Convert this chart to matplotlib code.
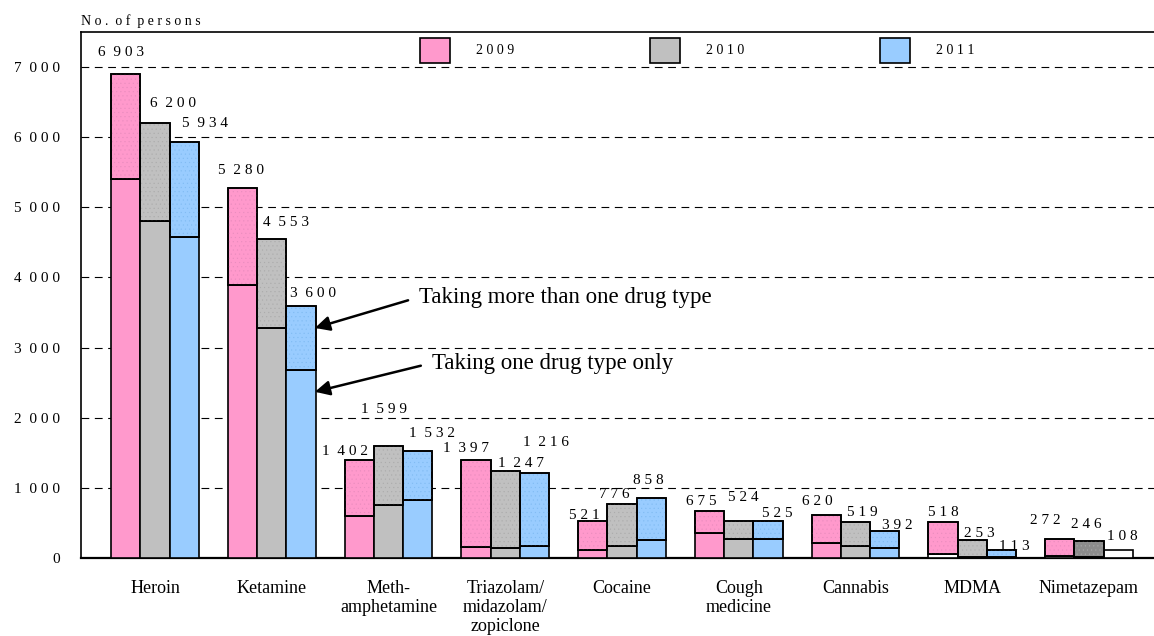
import numpy as np
import matplotlib
matplotlib.use("Agg")
from matplotlib import pyplot as plt
from matplotlib.patches import Rectangle

plt.rcParams['font.family'] = ['Liberation Serif', 'DejaVu Serif']
plt.rcParams['hatch.linewidth'] = 0.3

drugs = ['Heroin', 'Ketamine', 'Meth-\namphetamine', 'Triazolam/\nmidazolam/\nzopiclone',
         'Cocaine', 'Cough\nmedicine', 'Cannabis', 'MDMA', 'Nimetazepam']
years = ['2009', '2010', '2011']

total_2009 = [6903, 5280, 1402, 1397, 521, 675, 620, 518, 272]
total_2010 = [6200, 4553, 1599, 1247, 776, 524, 519, 253, 246]
total_2011 = [5934, 3600, 1532, 1216, 858, 525, 392, 113, 108]

single_2009 = [5400, 3890, 595, 160, 120, 360, 215, 55, 30]
single_2010 = [4810, 3280, 755, 145, 165, 275, 175, 10, 10]
single_2011 = [4580, 2680, 820, 165, 255, 275, 145, 15, 108]

yticks = [0, 1000, 2000, 3000, 4000, 5000, 6000, 7000]

totals = [total_2009, total_2010, total_2011]
singles = [single_2009, single_2010, single_2011]

colors = ['#FF99CC', '#C0C0C0', '#99CCFF']
dots = ['#E98CBE', '#ABABAB', '#80BBF2']

# a few bars drawn differently in the source
low_override = {(0, 7): 'white', (0, 8): 'white', (2, 8): 'white'}
up_override = {(1, 8): '#8C8C8C'}

# label offsets in pixels from bar top centre
offs = [
    [(-5, 21), (-2, 17), (-14, 8), (-10, 12), (-8, 6), (-8, 9), (-9, 13), (0, 9), (-14, 18)],
    [(18, 20), (14, 16), (-5, 36), (16, 7), (-8, 9), (5, 24), (7, 9), (7, 7), (-3, 16)],
    [(21, 18), (12, 12), (14, 17), (12, 30), (-3, 17), (9, 8), (13, 5), (13, 4), (4, 14)],
]


def spaced(v):
    s = f"{v:,}".replace(',', ' ')
    return '  '.join(' '.join(p) for p in s.split(' '))


fig = plt.figure(figsize=(11.54, 6.36), dpi=100)
ax = fig.add_axes([81 / 1154, 1 - 558 / 636, 1 - 81 / 1154, (558 - 32) / 636])

x = np.arange(len(drugs))
w = 0.25
for j in range(3):
    xs = x + (j - 1) * w
    for i in range(len(drugs)):
        lo = singles[j][i]
        hi = totals[j][i] - lo
        cl = low_override.get((j, i), colors[j])
        cu = up_override.get((j, i), colors[j])
        ax.bar(xs[i], lo, w, color=cl, edgecolor='black', linewidth=1.2, zorder=3)
        if hi > 0:
            ax.bar(xs[i], hi, w, bottom=lo, color=cu, edgecolor='black', linewidth=1.2, zorder=3)
            ax.bar(xs[i], hi, w, bottom=lo, color='none', edgecolor=dots[j], hatch='....',
                   linewidth=0, zorder=4)
            ax.bar(xs[i], hi, w, bottom=lo, color='none', edgecolor='black', linewidth=1.2, zorder=5)
        dx, dy = offs[j][i]
        ax.annotate(spaced(totals[j][i]), (xs[i], totals[j][i]),
                    xytext=(dx * 0.72, dy * 0.72), textcoords='offset points',
                    ha='center', va='center', fontsize=11, zorder=6)

ax.set_xlim(-0.634, 8.557)
ax.set_ylim(0, 7500)
ax.set_yticks(yticks)
ax.set_yticklabels([spaced(v) for v in yticks], fontsize=11)
ax.set_xticks(x)
ax.set_xticklabels(drugs, fontsize=13, linespacing=1.15, va='top')
ax.tick_params(axis='y', length=0, pad=15)
ax.tick_params(axis='x', length=0, pad=16)
for v in yticks[1:]:
    ax.axhline(v, color='black', lw=0.8, ls=(0, (7, 5)), zorder=1)

ax.spines['right'].set_visible(False)
for s in ['left', 'top']:
    ax.spines[s].set_linewidth(1.2)
ax.spines['bottom'].set_linewidth(1.6)

ax.text(0, 1.008, 'N o .  o f  p e r s o n s', transform=ax.transAxes, fontsize=10,
        ha='left', va='bottom')

# legend
leg_x = [420, 650, 880]
for j in range(3):
    px = leg_x[j]
    ax.add_patch(Rectangle(((px - 81) / 1073, 1 - (63 - 32) / 526), 30 / 1073, 25 / 526,
                           transform=ax.transAxes, facecolor=colors[j], edgecolor='black',
                           lw=1.2, zorder=7, clip_on=False))
    ax.text((px + 56 - 81) / 1073, 1 - (50 - 32) / 526, ' '.join(years[j]), transform=ax.transAxes,
            fontsize=10, ha='left', va='center', zorder=7)

arrow = dict(arrowstyle='-|>', color='black', lw=1.8, mutation_scale=22,
             shrinkA=6, shrinkB=0, relpos=(0, 0.5))
ax.annotate('Taking more than one drug type', xy=(1.37, 3280), xytext=(2.26, 3720),
            fontsize=16.5, ha='left', va='center', arrowprops=arrow, zorder=8)
ax.annotate('Taking one drug type only', xy=(1.37, 2370), xytext=(2.37, 2780),
            fontsize=16.5, ha='left', va='center', arrowprops=arrow, zorder=8)

fig.savefig('out.png', dpi=100)
